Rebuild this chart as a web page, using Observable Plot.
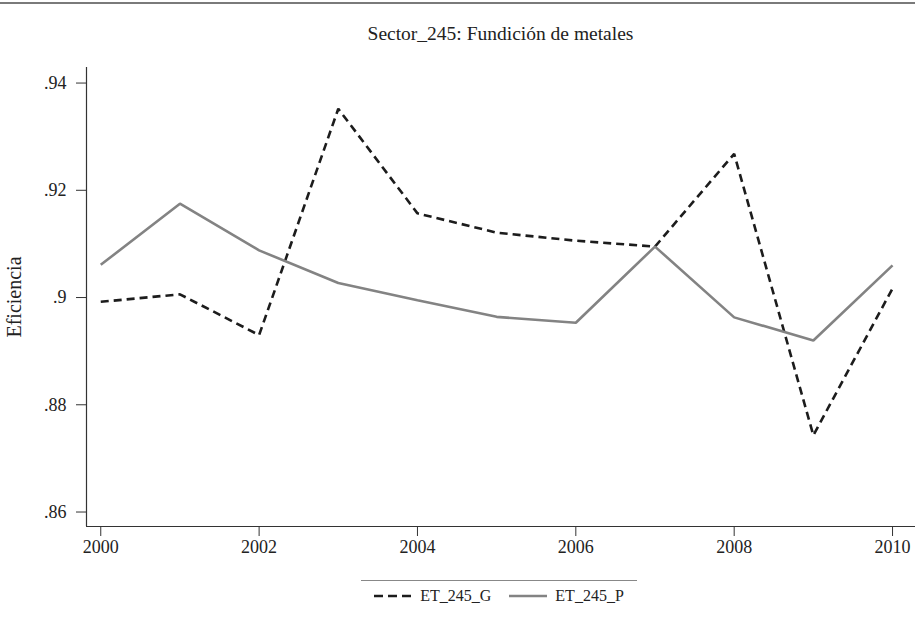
<!DOCTYPE html>
<html>
<head>
<meta charset="utf-8">
<script src="https://cdn.jsdelivr.net/npm/d3@7"></script>
<script src="https://cdn.jsdelivr.net/npm/@observablehq/plot@0.6"></script>
<style>
  html, body { margin: 0; padding: 0; background: #fff; }
  body { width: 915px; height: 626px; position: relative; overflow: hidden; font-family: "Liberation Serif", serif; color: #222; }
  #topline { position: absolute; left: 0; top: 2px; width: 915px; height: 0; border-top: 2px solid #7a7a7a; }
  #title { position: absolute; left: 86px; width: 829px; top: 22px; text-align: center; font-size: 19.5px; line-height: 24px; }
  #chart { position: absolute; left: 0; top: 50px; }
  #chart svg text { font-size: 18px; }
  #legend { position: absolute; left: 361px; top: 580px; width: 276px; border-top: 1px solid #888; padding-top: 6px; display: flex; justify-content: center; align-items: center; gap: 8px; font-size: 16px; }
  #legend .item { display: flex; align-items: center; gap: 8px; margin: 0 5px; }
</style>
</head>
<body>
<div id="topline"></div>
<div id="title">Sector_245: Fundición de metales</div>
<div id="chart"></div>
<div id="legend"></div>
<script>
const years = [2000, 2001, 2002, 2003, 2004, 2005, 2006, 2007, 2008, 2009, 2010];
const et245G = [0.8992, 0.9006, 0.8930, 0.9352, 0.9157, 0.9121, 0.9106, 0.9095, 0.9268, 0.8743, 0.9017];
const et245P = [0.9061, 0.9175, 0.9088, 0.9027, 0.8995, 0.8964, 0.8953, 0.9095, 0.8963, 0.8920, 0.9060];
const seriesNames = ["ET_245_G", "ET_245_P"];
const yTicks = [0.86, 0.88, 0.90, 0.92, 0.94];
const xTicks = [2000, 2002, 2004, 2006, 2008, 2010];
const yLabel = "Eficiencia";

const styles = {
  "ET_245_G": { stroke: "#1c1c1c", dash: "8,5" },
  "ET_245_P": { stroke: "#838383", dash: null }
};

const data = [];
years.forEach((yr, i) => {
  data.push({ year: yr, value: et245G[i], series: seriesNames[0] });
  data.push({ year: yr, value: et245P[i], series: seriesNames[1] });
});

const xDomain = [1999.82, 2010.29];
const yDomain = [0.8573, 0.9429];

const chart = Plot.plot({
  width: 915,
  height: 515,
  marginLeft: 86,
  marginRight: 0,
  marginTop: 17,
  marginBottom: 39,
  style: { fontFamily: "Liberation Serif, serif", fontSize: "18px", color: "#222", background: "white" },
  x: { domain: xDomain },
  y: { domain: yDomain },
  marks: [
    Plot.axisY(yTicks, {
      tickSize: 10, tickPadding: 10, stroke: "#333",
      tickFormat: d => d3.format(".2~f")(d).replace(/^0/, ""),
      label: yLabel, labelAnchor: "center", labelArrow: "none", labelOffset: 80
    }),
    Plot.axisX(xTicks, {
      tickSize: 10, tickPadding: 4, stroke: "#333", tickFormat: "d", label: null
    }),
    Plot.ruleX([xDomain[0]], { stroke: "#333", strokeWidth: 1.2 }),
    Plot.ruleY([yDomain[0]], { stroke: "#333", strokeWidth: 1.2 }),
    ...seriesNames.map(name => Plot.line(data.filter(d => d.series === name), {
      x: "year", y: "value",
      stroke: styles[name].stroke,
      strokeWidth: 2.6,
      strokeDasharray: styles[name].dash,
      strokeLinejoin: "miter",
      strokeLinecap: "butt"
    }))
  ]
});
d3.select(chart).selectAll("text")
  .filter(function () { return this.textContent === yLabel; })
  .style("font-size", "20px");
document.getElementById("chart").appendChild(chart);

const legend = document.getElementById("legend");
seriesNames.forEach(name => {
  const item = document.createElement("div");
  item.className = "item";
  const sw = d3.create("svg").attr("width", 38).attr("height", 10);
  sw.append("line").attr("x1", 0).attr("x2", 38).attr("y1", 5).attr("y2", 5)
    .attr("stroke", styles[name].stroke).attr("stroke-width", 2.6)
    .attr("stroke-dasharray", styles[name].dash ? "9,5" : null);
  item.appendChild(sw.node());
  const t = document.createElement("span");
  t.textContent = name;
  item.appendChild(t);
  legend.appendChild(item);
});
</script>
</body>
</html>
